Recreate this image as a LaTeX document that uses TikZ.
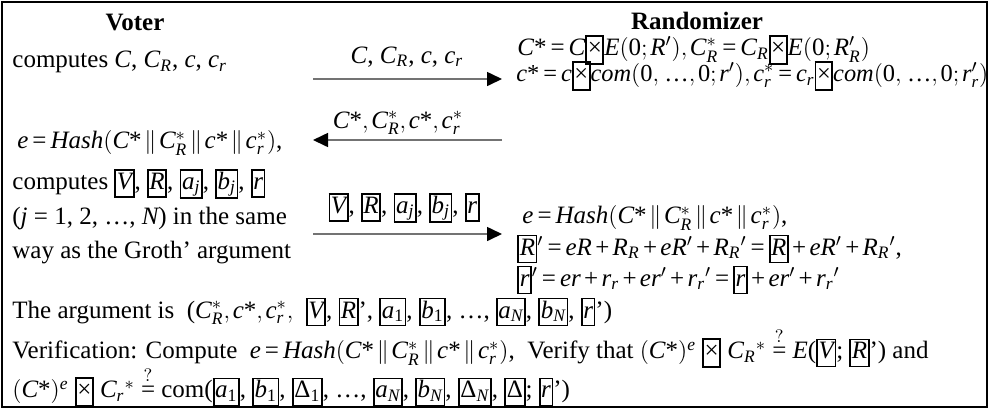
\documentclass[tikz,border=0pt]{standalone}
\usepackage{amsmath}
\usepackage{mathspec}
\setmainfont{Liberation Serif}
\setmathsfont(Digits,Latin,Greek){Liberation Serif}
\usetikzlibrary{arrows.meta}

\thinmuskip=2mu
\medmuskip=2.5mu
\thickmuskip=3mu
% Times-width + and = in formulas
\begingroup
\catcode`\+=\active \gdef+{\mathbin{\text{\char"2B}}}
\catcode`\==\active \gdef={\mathrel{\text{\char"3D}}}
\endgroup
\mathcode`\+="8000
\mathcode`\=="8000
\newcommand{\bx}[1]{{\setlength{\fboxsep}{0.3pt}\setlength{\fboxrule}{0.9pt}\fbox{$\vphantom{(}#1$}}}
\newcommand{\bxx}{{\setlength{\fboxsep}{0pt}\setlength{\fboxrule}{0.9pt}\fbox{\rule[-0.3em]{0pt}{1.05em}\kern0.3pt×\kern0.3pt}}}
\newcommand{\sr}{\text{*}}
\newcommand{\dts}{\text{…}}
\newcommand{\qeq}{\stackrel{?}{=}}
\newcommand{\hsh}{e = Hash(C\sr\,\|\,C^*_R\,\|\,c\sr\,\|\,c^*_r)}

\begin{document}
\begin{tikzpicture}[
      x=0.5pt, y=-0.5pt,
      every node/.style={font=\fontsize{12.5}{15}\selectfont, inner sep=0pt},
      head/.style={font=\fontsize{12.5}{15}\selectfont\bfseries},
      txt/.style={anchor=west},
      msg/.style={draw=black!55, line width=0.8pt, -{Triangle[length=7.5pt, width=7pt, color=black]}}
  ]
      \useasboundingbox (0,0) rectangle (989,409);
      \draw[line width=1.1pt] (2,2) rectangle (987,407);

      % Parties
      \node[head] (voter) at (135, 22) {Voter};
      \node[head] (rand)  at (697, 21) {Randomizer};

      % Voter side
      \node[txt] (vcomp) at (12, 62) {computes $C$, $C_R$, $c$, $c_r$};
      \node[txt] (vhash) at (17, 143) {$\hsh$,};
      \node[txt] (vcomp2) at (12, 184) {computes \bx{V}, \bx{R}, \bx{a_j}, \bx{b_j}, \bx{r}};
      \node[txt] (vj) at (12, 218) {($j$ = 1, 2, …, $N$) in the same};
      \node[txt] (vway) at (12, 253) {way as the Groth’ argument};

      % Randomizer side
      \node[txt] (rline1) at (517, 50) {$C\sr = C\bxx E(0;R'), C^*_R = C_R\bxx E(0;R'_R)$};
      \node[txt, font=\fontsize{12.2}{15}\selectfont] (rline2) at (516, 76) {$c\sr = c\bxx com(0,\,\dts, 0; r'), c^*_r = c_r\bxx com(0,\,\dts, 0; r'_r)$};
      \node[txt] (rhash) at (522, 218) {$\hsh$,};
      \node[txt] (rbigr) at (517, 249) {$\bx{R}{}' = eR + R_R + eR' + R_R{}' = \bx{R} + eR' + R_R{}'$,};
      \node[txt] (rsmallr) at (517, 280) {$\bx{r}{}' = er + r_r + er' + r_r{}' = \bx{r} + er' + r_r{}'$};

      % Messages
      \coordinate (m1a) at (313, 79);
      \coordinate (m1b) at (502, 79);
      \coordinate (m2a) at (502, 140);
      \coordinate (m2b) at (313, 140);
      \coordinate (m3a) at (313, 234);
      \coordinate (m3b) at (502, 234);
      \draw[msg] (m1a) -- (m1b);
      \draw[msg] (m2a) -- (m2b);
      \draw[msg] (m3a) -- (m3b);
      \node (lab1) at (407, 57) {$C$, $C_R$, $c$, $c_r$};
      \node (lab2) at (398, 123) {$C\sr, C^*_R, c\sr, c^*_r$};
      \node (lab3) at (404, 208) {\bx{V}, \bx{R}, \bx{a_j}, \bx{b_j}, \bx{r}};

      % Argument and verification
      \node[txt] (arg) at (12, 312) {The argument is \ ($C^*_R, c\sr, c^*_r,$ \ \bx{V}, \bx{R}{}', \bx{a_1}, \bx{b_1}, …, \bx{a_N}, \bx{b_N}, \bx{r}{}')};
      \node[txt] (verif) at (12, 348) {Verification: Compute \ $\hsh$, \ Verify that $(C\sr)^e$ \bxx\ $C_R{}^*$ $\qeq$ $E$(\bx{V}; \bx{R}{}') and};
      \node[txt] (check) at (12, 387) {$(C\sr)^e$ \bxx\ $C_r{}^*$ $\qeq$ com(\bx{a_1}, \bx{b_1}, \bx{\Delta_1}, …, \bx{a_N}, \bx{b_N}, \bx{\Delta_N}, \bx{\Delta}; \bx{r}{}')};

  \end{tikzpicture}
\end{document}
